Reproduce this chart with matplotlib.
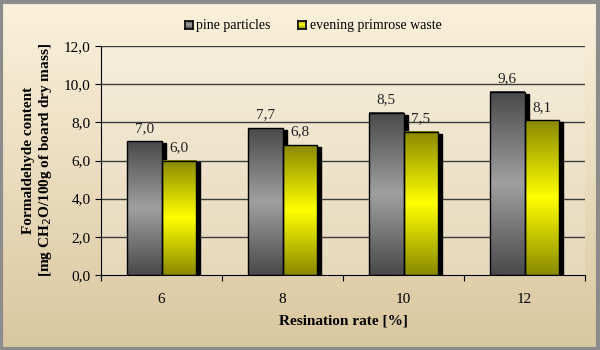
import numpy as np
import matplotlib.pyplot as plt
from matplotlib.colors import LinearSegmentedColormap
from matplotlib.patches import Rectangle

plt.rcParams['font.family'] = ['Liberation Serif', 'DejaVu Serif']

categories = ['6', '8', '10', '12']
pine = [7.0, 7.7, 8.5, 9.6]
primrose = [6.0, 6.8, 7.5, 8.1]
series_names = ['pine particles', 'evening primrose waste']
yticks = [0, 2, 4, 6, 8, 10, 12]

gray_cm = LinearSegmentedColormap.from_list('g', ['#4a4a4a', '#a0a0a0', '#4a4a4a'])
yel_cm = LinearSegmentedColormap.from_list('y', ['#8a8a00', '#ffff00', '#8a8a00'])
bg_cm = LinearSegmentedColormap.from_list('bg', ['#d9c7a0', '#fbf1dc'])
pa_cm = LinearSegmentedColormap.from_list('pa', ['#e6d9bb', '#f6eedb'])

fig = plt.figure(figsize=(6, 3.5), dpi=100)

# figure background gradient
bg = fig.add_axes([0, 0, 1, 1], zorder=-10)
bg.imshow(np.linspace(0, 1, 100).reshape(-1, 1), cmap=bg_cm, aspect='auto',
          extent=(0, 1, 0, 1), origin='lower')
bg.set_axis_off()
bg.add_patch(Rectangle((0.002, 0.003), 0.994, 0.992, fill=False,
                       edgecolor='#8c8c8c', lw=3, transform=bg.transAxes))

ax = fig.add_axes([101 / 600, 1 - 275 / 350, 484 / 600, 229 / 350])
ax.set_xlim(0, len(categories))
ax.set_ylim(0, 12)
ax.imshow(np.linspace(0, 1, 100).reshape(-1, 1), cmap=pa_cm, aspect='auto',
          extent=(0, len(categories), 0, 12), origin='lower', zorder=0)

for v in yticks[1:]:
    ax.axhline(v, color='#3c3c3c', lw=1, zorder=1)

grad = np.linspace(0, 1, 100).reshape(-1, 1)
w = 0.285
for i in range(len(categories)):
    c = i + 0.5
    for x0, h, cm in [(c - w, pine[i], gray_cm), (c, primrose[i], yel_cm)]:
        # shadow
        ax.add_patch(Rectangle((x0 + 0.035, 0), w, h - 0.1, color='black', zorder=2))
        ax.imshow(grad, cmap=cm, aspect='auto', extent=(x0, x0 + w, 0, h),
                  zorder=3)
        ax.add_patch(Rectangle((x0, 0), w, h, fill=False, edgecolor='black',
                               lw=1, zorder=4))
        ax.text(x0 + w / 2, h + 0.35, f'{h:.1f}'.replace('.', ','), ha='center',
                va='bottom', fontsize=11, color='#222222', zorder=5)

ax.set_xlim(0, len(categories))
ax.set_ylim(0, 12)
ax.set_xticks(range(len(categories) + 1))
ax.set_xticklabels([])
ax.set_xticks([i + 0.5 for i in range(len(categories))], minor=True)
ax.set_xticklabels(categories, minor=True, fontsize=11)
ax.tick_params(axis='x', which='minor', length=0, pad=13)
ax.tick_params(axis='x', which='major', length=4, direction='out')
ax.set_yticks(yticks)
ax.set_yticklabels([f'{v:.1f}'.replace('.', ',') for v in yticks], fontsize=11)
ax.tick_params(axis='y', length=4, direction='out')
for s in ['top', 'right']:
    ax.spines[s].set_visible(False)
ax.spines['left'].set_zorder(6)
ax.spines['bottom'].set_zorder(6)

ax.set_xlabel('Resination rate [%]', fontsize=11, fontweight='bold', labelpad=6)
ax.set_ylabel('Formaldehyde content\n[mg CH$_2$O/100g of board dry mass]',
              fontsize=11, fontweight='bold', labelpad=7)

# legend
leg_y = 0.928
for name, cm, x in [(series_names[0], gray_cm, 0.308), (series_names[1], yel_cm, 0.497)]:
    lax = fig.add_axes([x, leg_y - 0.012, 0.013, 0.025])
    lax.imshow(grad, cmap=cm, aspect='auto')
    lax.set_xticks([])
    lax.set_yticks([])
    for s in lax.spines.values():
        s.set_linewidth(1.2)
    fig.text(x + 0.019, leg_y, name, fontsize=10, va='center', ha='left')

fig.savefig('out.png', dpi=100)
